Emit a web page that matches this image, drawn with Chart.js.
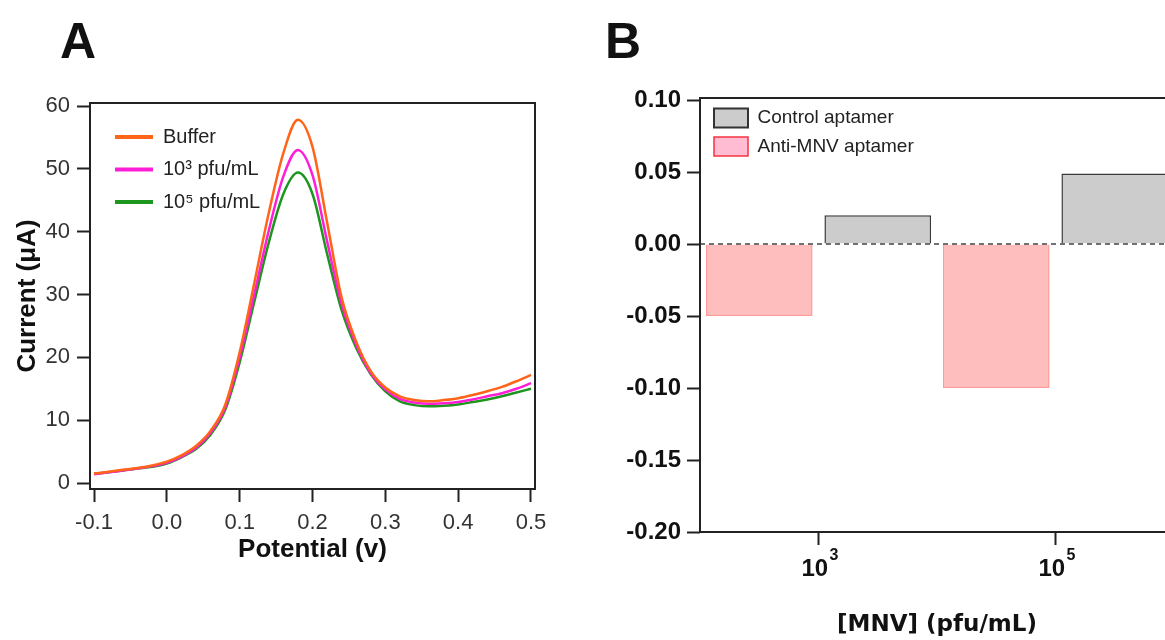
<!DOCTYPE html>
<html>
<head>
<meta charset="utf-8">
<script src="https://cdn.jsdelivr.net/npm/chart.js@4.4.1/dist/chart.umd.min.js"></script>
<style>
  html, body { margin: 0; padding: 0; overflow: hidden; background: #fff; }
  body { width: 1165px; height: 640px; position: relative; font-family: 'Liberation Sans', Arial, sans-serif; }
  .panel-letter { position: absolute; font: bold 50px 'Liberation Sans', Arial, sans-serif; line-height: 50px; color: #111; }
  #wrapA { position: absolute; left: 0; top: 0; width: 560px; height: 600px; }
  #wrapB { position: absolute; left: 580px; top: 0; width: 620px; height: 640px; }
</style>
</head>
<body>
<div class="panel-letter" style="left:60px; top:16px;">A</div>
<div class="panel-letter" style="left:605px; top:16px;">B</div>
<div id="wrapA"><canvas id="chartA"></canvas></div>
<div id="wrapB"><canvas id="chartB"></canvas></div>

<script>
// Panel A - differential pulse voltammetry curves
const potential = [-0.10, -0.08, -0.06, -0.04, -0.02, 0.00, 0.02, 0.04, 0.06, 0.08, 0.10, 0.12, 0.14, 0.16, 0.18, 0.20,
                   0.22, 0.24, 0.26, 0.28, 0.30, 0.32, 0.34, 0.36, 0.38, 0.40, 0.42, 0.44, 0.46, 0.48, 0.50];
const buffer  = [1.5, 1.8, 2.1, 2.4, 2.8, 3.4, 4.4, 5.9, 8.3, 12.4, 20.8, 31.8, 43.0, 52.5, 57.8, 53.5,
                 41.5, 29.5, 22.5, 17.8, 15.2, 13.8, 13.2, 13.0, 13.2, 13.5, 14.0, 14.6, 15.3, 16.2, 17.2];
const mnv1e3  = [1.4, 1.7, 2.0, 2.3, 2.7, 3.2, 4.2, 5.6, 8.0, 12.0, 20.0, 30.0, 40.2, 48.8, 53.0, 49.0,
                 38.5, 28.5, 22.0, 17.5, 14.9, 13.4, 12.8, 12.6, 12.7, 12.9, 13.3, 13.8, 14.3, 15.0, 15.9];
const mnv1e5  = [1.5, 1.7, 2.0, 2.3, 2.6, 3.1, 4.1, 5.4, 7.7, 11.6, 19.2, 28.8, 38.3, 46.0, 49.4, 46.0,
                 36.5, 27.5, 21.5, 17.3, 14.6, 13.0, 12.4, 12.2, 12.3, 12.5, 12.9, 13.3, 13.8, 14.4, 15.0];
const aTicksX = [-0.1, 0.0, 0.1, 0.2, 0.3, 0.4, 0.5];
const aTicksY = [0, 10, 20, 30, 40, 50, 60];

// Panel B - signal change per concentration
const mnvLabels = ['10^3', '10^5'];
const antiMnv   = [-0.05, -0.10];
const control   = [0.020, 0.049];
const bTicksY   = [0.10, 0.05, 0.00, -0.05, -0.10, -0.15, -0.20];

const FONT = "'Liberation Sans', Arial, sans-serif";
const INK = '#222';

function framePlugin(id, width) {
  return {
    id: id,
    afterDraw(chart) {
      const a = chart.chartArea, c = chart.ctx;
      c.save();
      c.strokeStyle = INK;
      c.lineWidth = width;
      c.strokeRect(a.left, a.top, a.right - a.left, a.bottom - a.top);
      c.restore();
    }
  };
}

// put the legend box at a fixed spot inside the plot
function legendAt(id, x, y) {
  return {
    id: id,
    afterLayout(chart) {
      const lg = chart.legend;
      const w = lg.width, h = lg.height;
      lg.left = x; lg.right = x + w;
      lg.top = y; lg.bottom = y + h;
    }
  };
}

const zeroLine = {
  id: 'zeroLine',
  afterDatasetsDraw(chart) {
    const y = chart.scales.y.getPixelForValue(0);
    const a = chart.chartArea, c = chart.ctx;
    c.save();
    c.strokeStyle = '#444';
    c.lineWidth = 1.5;
    c.setLineDash([5, 4]);
    c.beginPath();
    c.moveTo(a.left, y);
    c.lineTo(a.right, y);
    c.stroke();
    c.restore();
  }
};

// "10^3" style tick labels drawn with a raised exponent
const powerTicks = {
  id: 'powerTicks',
  afterDraw(chart) {
    const sx = chart.scales.x, c = chart.ctx;
    c.save();
    c.fillStyle = '#111';
    c.textAlign = 'left';
    c.textBaseline = 'alphabetic';
    chart.data.labels.forEach((lab, i) => {
      const parts = lab.split('^');
      const x = sx.getPixelForTick(i);
      const y = sx.top + 44;
      c.font = 'bold 24px ' + FONT;
      c.fillText(parts[0], x - 17, y);
      c.font = 'bold 16px ' + FONT;
      c.fillText(parts[1], x + 11, y - 16);
    });
    c.restore();
  }
};

const toPoints = ys => ys.map((y, i) => ({x: potential[i], y: y}));

new Chart(document.getElementById('chartA'), {
  type: 'line',
  data: {
    datasets: [
      { label: 'Buffer', data: toPoints(buffer), borderColor: '#FF6418', backgroundColor: '#FF6418' },
      { label: '10³ pfu/mL', data: toPoints(mnv1e3), borderColor: '#FF1ED8', backgroundColor: '#FF1ED8' },
      { label: '10⁵ pfu/mL', data: toPoints(mnv1e5), borderColor: '#1C961C', backgroundColor: '#1C961C' }
    ]
  },
  options: {
    responsive: true,
    maintainAspectRatio: false,
    animation: false,
    layout: { padding: { top: 103, right: 25, left: 0, bottom: 0 } },
    elements: {
      point: { radius: 0 },
      line: { borderWidth: 2.5, cubicInterpolationMode: 'monotone' }
    },
    scales: {
      x: {
        type: 'linear',
        min: -0.1055,
        max: 0.5055,
        afterBuildTicks: s => { s.ticks = aTicksX.map(v => ({value: v})); },
        afterFit: s => { s.height = 111; },
        grid: { display: true, drawOnChartArea: false, drawTicks: true, tickLength: 13, tickWidth: 2, tickColor: INK },
        border: { display: false },
        ticks: { color: '#333', padding: 8, maxRotation: 0, font: { family: FONT, size: 22 },
                 callback: v => v.toFixed(1) },
        title: { display: true, text: 'Potential (v)', color: '#111',
                 font: { family: FONT, size: 26, weight: 'bold' }, padding: { top: 0, bottom: 35 } }
      },
      y: {
        min: -0.95,
        max: 60.48,
        afterBuildTicks: s => { s.ticks = aTicksY.map(v => ({value: v})); },
        afterFit: s => { s.width = 90; },
        grid: { display: true, drawOnChartArea: false, drawTicks: true, tickLength: 13, tickWidth: 2, tickColor: INK },
        border: { display: false },
        ticks: { color: '#333', padding: 7, font: { family: FONT, size: 22 } },
        title: { display: true, text: 'Current (μA)', color: '#111',
                 font: { family: FONT, size: 26, weight: 'bold' }, padding: { top: 12, bottom: 0 } }
      }
    },
    plugins: {
      tooltip: { enabled: false },
      legend: {
        position: 'chartArea',
        align: 'start',
        labels: {
          color: '#222',
          font: { family: FONT, size: 20 },
          boxWidth: 38,
          boxHeight: 4,
          padding: 12.5,
          generateLabels: chart => Chart.defaults.plugins.legend.labels.generateLabels(chart)
            .map(l => Object.assign(l, { lineWidth: 0 }))
        }
      }
    }
  },
  plugins: [framePlugin('frameA', 2), legendAt('legendA', 102.5, 114.5)]
});

new Chart(document.getElementById('chartB'), {
  type: 'bar',
  data: {
    labels: mnvLabels,
    datasets: [
      { label: 'Anti-MNV aptamer', data: antiMnv, backgroundColor: 'rgba(255,150,150,0.62)',
        borderColor: 'rgba(255,120,120,0.75)', borderWidth: 1.5 },
      { label: 'Control aptamer', data: control, backgroundColor: '#CCCCCC',
        borderColor: '#3a3a3a', borderWidth: 1.5 }
    ]
  },
  options: {
    responsive: true,
    maintainAspectRatio: false,
    animation: false,
    categoryPercentage: 1.0,
    barPercentage: 0.9,
    layout: { padding: { top: 98, right: 26, left: 0, bottom: 0 } },
    scales: {
      x: {
        afterFit: s => { s.height = 108; },
        grid: { display: true, offset: false, drawOnChartArea: false, drawTicks: true, tickLength: 13, tickWidth: 2, tickColor: INK },
        border: { display: false },
        ticks: { color: '#111', padding: 8, font: { family: FONT, size: 24, weight: 'bold' }, callback: () => '' },
        title: { display: true, text: '[MNV] (pfu/mL)', color: '#111',
                 font: { family: "'DejaVu Sans', Verdana, sans-serif", size: 23, weight: 'bold' },
                 padding: { top: 0, bottom: 1 } }
      },
      y: {
        min: -0.2,
        max: 0.1014,
        afterBuildTicks: s => { s.ticks = bTicksY.map(v => ({value: v})); },
        afterFit: s => { s.width = 120; },
        grid: { display: true, drawOnChartArea: false, drawTicks: true, tickLength: 13, tickWidth: 2, tickColor: INK },
        border: { display: false },
        ticks: { color: '#111', padding: 6, font: { family: FONT, size: 24, weight: 'bold' },
                 callback: v => v.toFixed(2) }
      }
    },
    plugins: {
      tooltip: { enabled: false },
      legend: {
        position: 'chartArea',
        align: 'start',
        reverse: true,
        labels: {
          color: '#222',
          font: { family: FONT, size: 19 },
          boxWidth: 34,
          boxHeight: 19,
          padding: 9.5,
          generateLabels: chart => Chart.defaults.plugins.legend.labels.generateLabels(chart).map(l => {
            if (l.text === 'Anti-MNV aptamer') {
              l.fillStyle = '#FFBCD2'; l.strokeStyle = '#F5333F'; l.lineWidth = 1.5;
            } else {
              l.fillStyle = '#CCCCCC'; l.strokeStyle = '#333'; l.lineWidth = 2;
            }
            return l;
          })
        }
      }
    }
  },
  plugins: [zeroLine, framePlugin('frameB', 2), powerTicks, legendAt('legendB', 124.5, 99)]
});
</script>
</body>
</html>
